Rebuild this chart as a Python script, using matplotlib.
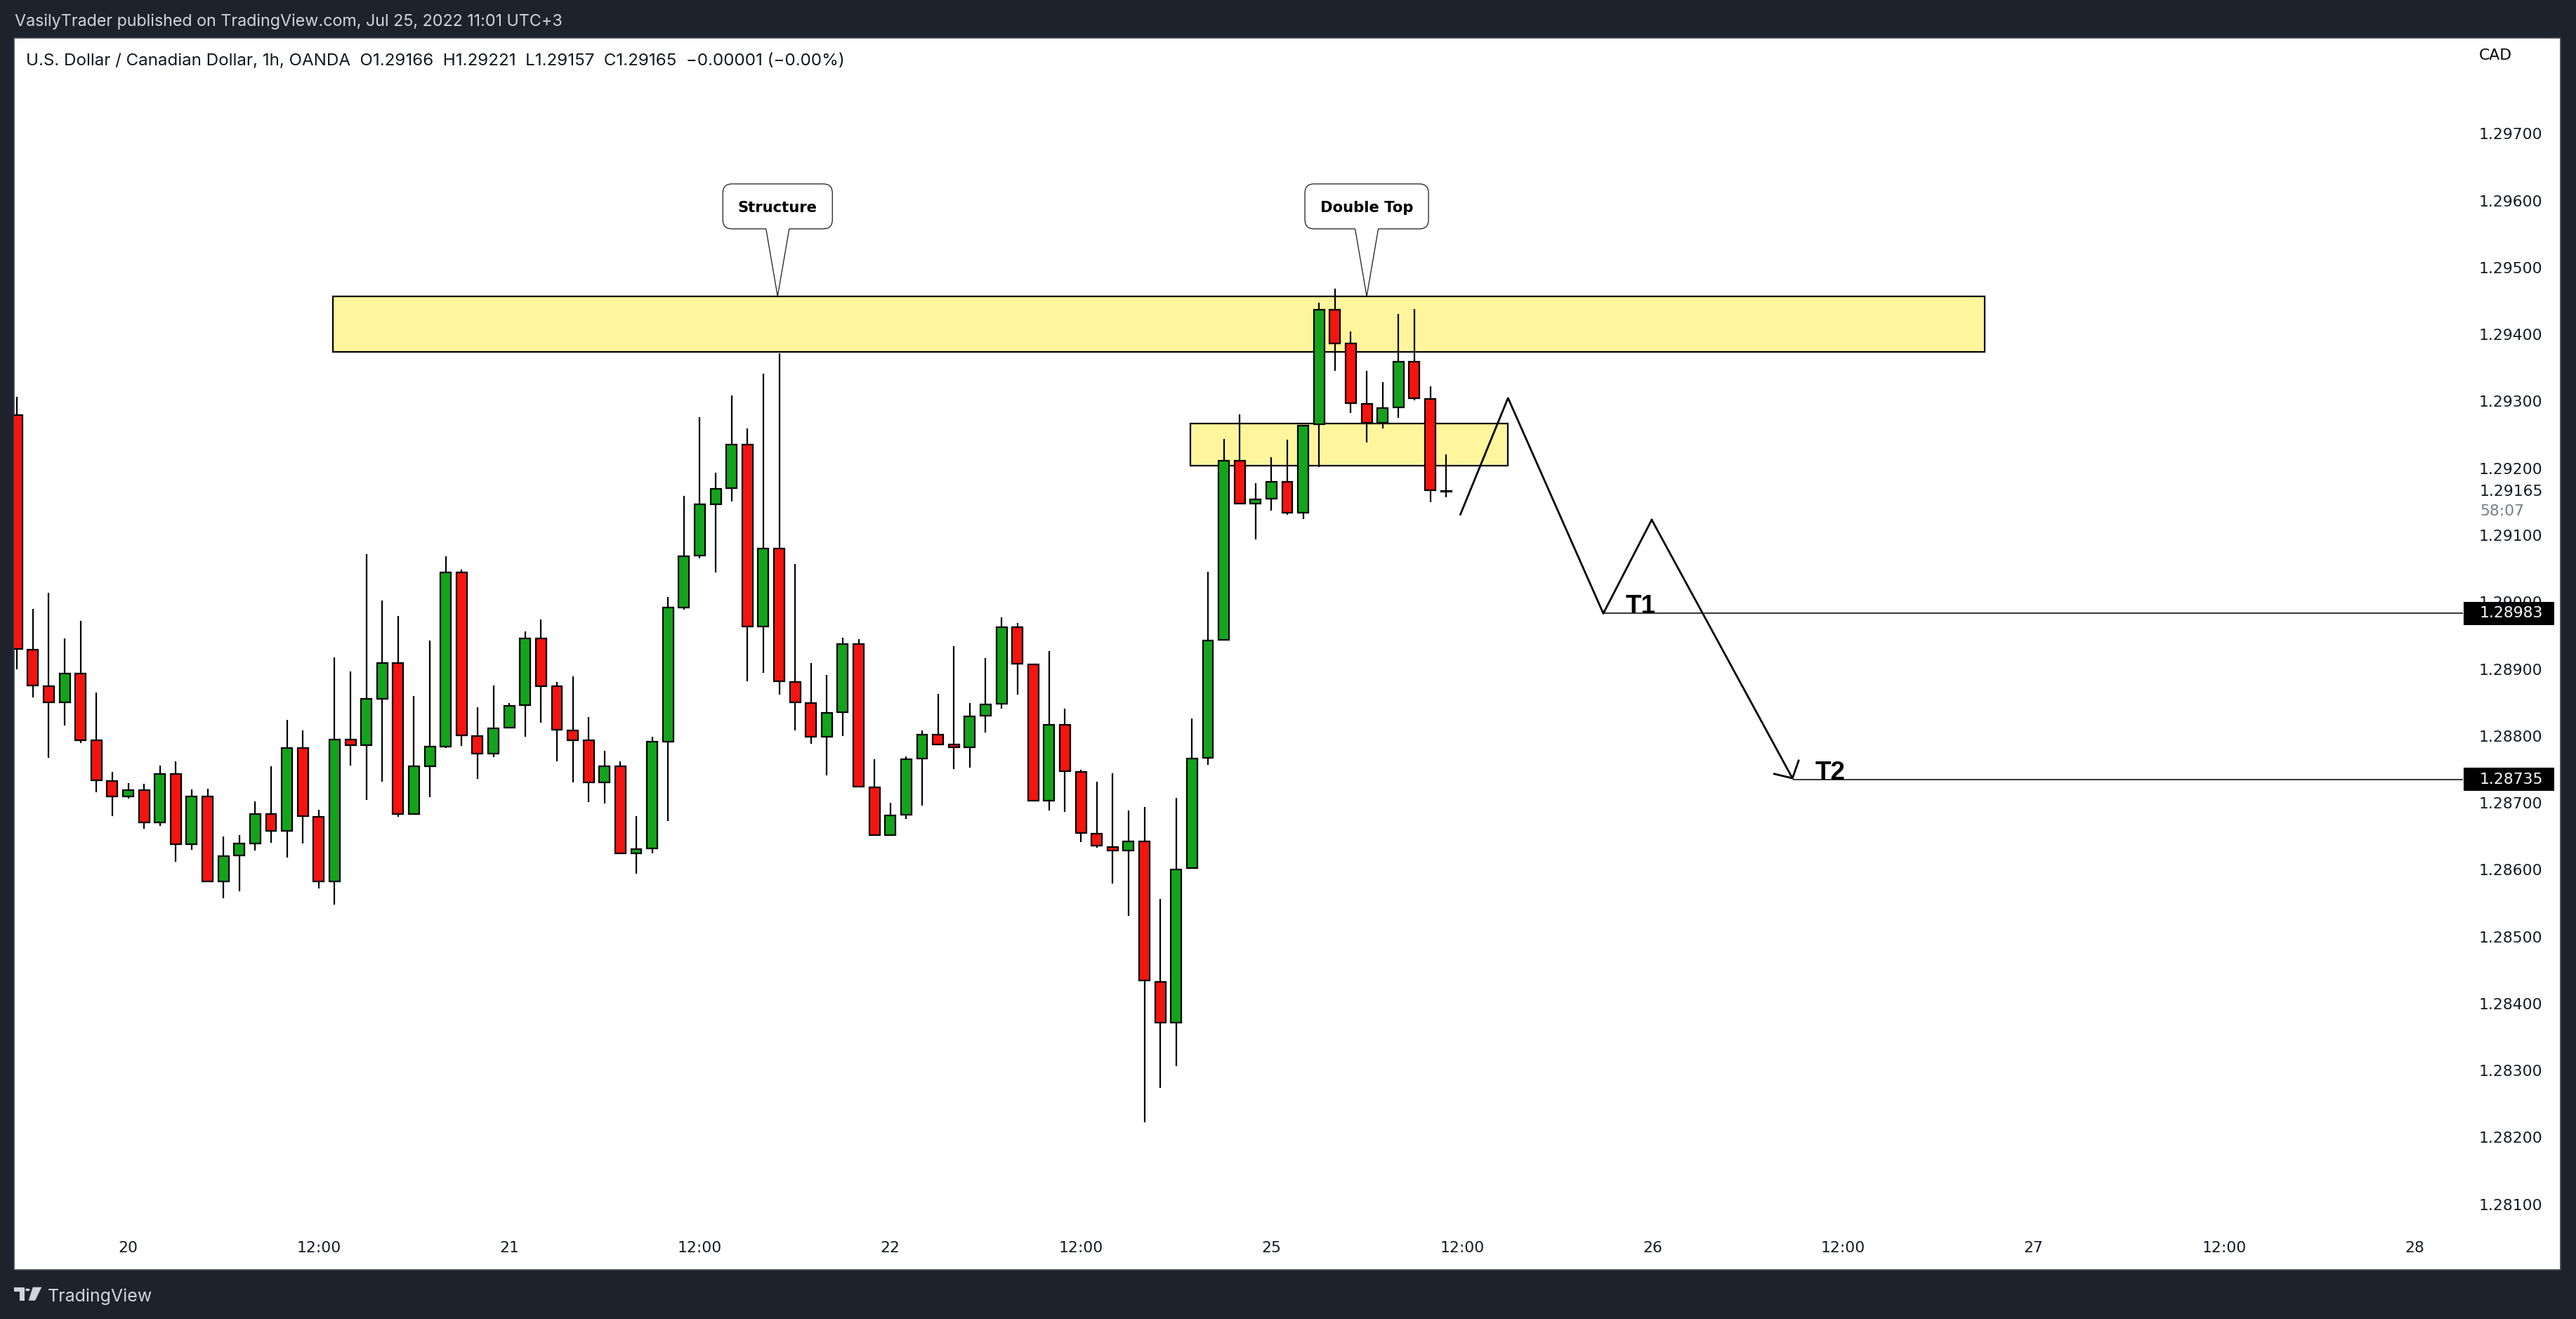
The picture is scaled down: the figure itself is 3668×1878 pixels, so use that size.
import numpy as np
import matplotlib
matplotlib.use("Agg")
import matplotlib.pyplot as plt
import matplotlib.transforms as mtransforms
from matplotlib.patches import Rectangle, PathPatch, Polygon, Circle
from matplotlib.path import Path

# hourly USDCAD bars, x = bar number counted from Jul 20 00:00 (weekend gap removed)
bar_idx = list(range(-7, 84))
opens = [1.29279, 1.28929, 1.28874, 1.28850, 1.28893, 1.28793, 1.28733, 1.28710, 1.28719, 1.28671,
         1.28743, 1.28638, 1.28709, 1.28583, 1.28621, 1.28639, 1.28683, 1.28658, 1.28782, 1.28679,
         1.28583, 1.28794, 1.28786, 1.28855, 1.28909, 1.28683, 1.28755, 1.28784, 1.29044, 1.28800,
         1.28774, 1.28812, 1.28846, 1.28946, 1.28874, 1.28808, 1.28793, 1.28730, 1.28755, 1.28624,
         1.28632, 1.28791, 1.28992, 1.29070, 1.29146, 1.29170, 1.29235, 1.28963, 1.29080, 1.28881,
         1.28849, 1.28799, 1.28835, 1.28937, 1.28723, 1.28652, 1.28682, 1.28766, 1.28802, 1.28787,
         1.28783, 1.28830, 1.28848, 1.28962, 1.28907, 1.28703, 1.28817, 1.28746, 1.28654, 1.28634,
         1.28629, 1.28642, 1.28432, 1.28371, 1.28602, 1.28767, 1.28944, 1.29211, 1.29147, 1.29155,
         1.29180, 1.29134, 1.29266, 1.29437, 1.29386, 1.29296, 1.29268, 1.29291, 1.29359, 1.29304,
         1.29166]
highs = [1.29307, 1.28990, 1.29014, 1.28946, 1.28972, 1.28865, 1.28746, 1.28729, 1.28728, 1.28756,
         1.28762, 1.28720, 1.28721, 1.28650, 1.28652, 1.28702, 1.28755, 1.28824, 1.28808, 1.28690,
         1.28917, 1.28896, 1.29072, 1.29002, 1.28979, 1.28860, 1.28942, 1.29069, 1.29049, 1.28843,
         1.28875, 1.28849, 1.28956, 1.28974, 1.28881, 1.28889, 1.28828, 1.28778, 1.28762, 1.28680,
         1.28799, 1.29008, 1.29159, 1.29276, 1.29193, 1.29309, 1.29259, 1.29341, 1.29372, 1.29057,
         1.28909, 1.28891, 1.28947, 1.28945, 1.28765, 1.28700, 1.28769, 1.28808, 1.28863, 1.28934,
         1.28849, 1.28916, 1.28977, 1.28969, 1.28907, 1.28927, 1.28841, 1.28749, 1.28732, 1.28744,
         1.28688, 1.28694, 1.28556, 1.28707, 1.28826, 1.29045, 1.29244, 1.29281, 1.29178, 1.29216,
         1.29243, 1.29264, 1.29447, 1.29468, 1.29404, 1.29346, 1.29329, 1.29431, 1.29438, 1.29322,
         1.29221]
lows = [1.28900, 1.28858, 1.28767, 1.28816, 1.28789, 1.28716, 1.28680, 1.28706, 1.28661, 1.28665,
        1.28612, 1.28630, 1.28582, 1.28557, 1.28568, 1.28629, 1.28640, 1.28618, 1.28639, 1.28572,
        1.28548, 1.28756, 1.28704, 1.28732, 1.28679, 1.28683, 1.28708, 1.28782, 1.28785, 1.28736,
        1.28768, 1.28812, 1.28799, 1.28820, 1.28762, 1.28730, 1.28701, 1.28699, 1.28624, 1.28594,
        1.28625, 1.28673, 1.28989, 1.29065, 1.29044, 1.29150, 1.28882, 1.28894, 1.28862, 1.28808,
        1.28788, 1.28741, 1.28800, 1.28724, 1.28652, 1.28652, 1.28676, 1.28696, 1.28786, 1.28750,
        1.28753, 1.28805, 1.28841, 1.28862, 1.28703, 1.28688, 1.28686, 1.28641, 1.28633, 1.28579,
        1.28531, 1.28222, 1.28274, 1.28306, 1.28602, 1.28757, 1.28944, 1.29147, 1.29094, 1.29137,
        1.29130, 1.29124, 1.29202, 1.29346, 1.29283, 1.29238, 1.29259, 1.29275, 1.29302, 1.29149,
        1.29157]
closes = [1.28930, 1.28875, 1.28850, 1.28893, 1.28793, 1.28734, 1.28710, 1.28719, 1.28671, 1.28743,
          1.28638, 1.28709, 1.28583, 1.28620, 1.28639, 1.28683, 1.28658, 1.28782, 1.28680, 1.28583,
          1.28794, 1.28786, 1.28855, 1.28909, 1.28683, 1.28755, 1.28784, 1.29044, 1.28801, 1.28774,
          1.28811, 1.28845, 1.28946, 1.28874, 1.28809, 1.28793, 1.28730, 1.28755, 1.28624, 1.28631,
          1.28791, 1.28992, 1.29069, 1.29146, 1.29169, 1.29235, 1.28963, 1.29080, 1.28882, 1.28850,
          1.28799, 1.28834, 1.28937, 1.28724, 1.28652, 1.28681, 1.28765, 1.28802, 1.28787, 1.28783,
          1.28829, 1.28847, 1.28962, 1.28908, 1.28703, 1.28817, 1.28747, 1.28655, 1.28636, 1.28629,
          1.28642, 1.28434, 1.28371, 1.28600, 1.28766, 1.28943, 1.29211, 1.29147, 1.29154, 1.29180,
          1.29134, 1.29264, 1.29437, 1.29387, 1.29297, 1.29268, 1.29290, 1.29359, 1.29305, 1.29167,
          1.29165]

time_ticks = [0, 12, 24, 36, 48, 60, 72, 84, 96, 108, 120, 132, 144]
time_labels = ["20", "12:00", "21", "12:00", "22", "12:00", "25", "12:00",
               "26", "12:00", "27", "12:00", "28"]
price_ticks = [1.281, 1.282, 1.283, 1.284, 1.285, 1.286, 1.287, 1.288, 1.289,
               1.290, 1.291, 1.292, 1.293, 1.294, 1.295, 1.296, 1.297]

# drawings
zone_x0 = [12.9, 66.9]
zone_x1 = [116.9, 86.9]
zone_lo = [1.29374, 1.29204]
zone_hi = [1.29457, 1.29267]
path_x = [83.9, 86.9, 92.9, 95.95, 104.85]
path_y = [1.29131, 1.29305, 1.28983, 1.29123, 1.28735]
target_names = ["T1", "T2"]
target_x = [92.9, 104.85]
target_y = [1.28983, 1.28735]
callout_text = ["Structure", "Double Top"]
callout_x = [40.9, 78.0]
callout_y = [1.29457, 1.29457]
callout_w = [156, 176]

last_price = 1.29165
header = "VasilyTrader published on TradingView.com, Jul 25, 2022 11:01 UTC+3"
title = ("U.S. Dollar / Canadian Dollar, 1h, OANDA  O1.29166  H1.29221  "
         "L1.29157  C1.29165  \u22120.00001 (\u22120.00%)")

W, H, DPI = 3668, 1878, 200
BG = "#1e222d"
fig = plt.figure(figsize=(W / DPI, H / DPI), dpi=DPI, facecolor=BG)

# white chart panel
fig.patches.append(Rectangle((20 / W, 1 - 1808 / H), 3626 / W, 1754 / H, transform=fig.transFigure,
                             fc="white", ec="#434651", lw=0.6, zorder=-1))

# pane in pixels: x 20..3507, y 54..1750; scale: bar 0 at x=182.5, 22.61 px/bar, 1.292 at y=666.7, 95270 px/unit
pl, pr, pt, pb = 20, 3507, 54, 1750
ax = fig.add_axes([pl / W, 1 - pb / H, (pr - pl) / W, (pb - pt) / H])
ax.set_xlim((pl - 182.5) / 22.61, (pr - 182.5) / 22.61)
ax.set_ylim(1.292 - (pb - 666.7) / 95270, 1.292 + (666.7 - pt) / 95270)
ax.patch.set_alpha(0)
for s in ax.spines.values():
    s.set_visible(False)

o = np.array(opens)
c = np.array(closes)
colors = ["#13a41b" if cc >= oo else "#f5140f" for oo, cc in zip(o, c)]
ax.vlines(bar_idx, lows, highs, color="black", lw=0.8, zorder=2)
ax.bar(bar_idx, np.abs(c - o), bottom=np.minimum(o, c), width=0.66, color=colors,
       edgecolor="black", linewidth=0.8, zorder=3)

for x0, x1, lo, hi in zip(zone_x0, zone_x1, zone_lo, zone_hi):
    ax.add_patch(Rectangle((x0, lo), x1 - x0, hi - lo, fc="#fff59d", ec="black", lw=0.8, zorder=1))

# projected path with arrow at the end
ax.plot(path_x[:-1], path_y[:-1], color="black", lw=1.0, zorder=4)
ax.annotate("", xy=(path_x[-1], path_y[-1]), xytext=(path_x[-2], path_y[-2]),
            arrowprops=dict(arrowstyle="->,head_length=0.65,head_width=0.72", lw=1.0, color="black",
                            shrinkA=0, shrinkB=0, mutation_scale=10), zorder=4)

xmax = ax.get_xlim()[1]
ty = mtransforms.blended_transform_factory(ax.transAxes, ax.transData)
for name, tx, tp in zip(target_names, target_x, target_y):
    ax.hlines(tp, tx, xmax, color="black", lw=0.55, zorder=4)
    ax.text(tx + 1.4, tp, name, family=["Liberation Sans", "DejaVu Sans"], fontweight="bold",
            fontsize=13.3, va="baseline", ha="left", zorder=5)
    ax.add_patch(Rectangle((1.0003, tp - 0.000173), 0.037, 0.000346, transform=ty, fc="black",
                           clip_on=False, zorder=10))
    ax.text(1.0069, tp, f"{tp:.5f}", transform=ty, color="white", fontsize=7.9, va="center",
            ha="left", zorder=11, clip_on=False)

# callouts (sizes in pixels of the reference)
def callout(x, p, label, bw_px):
    gap, h, r, base = 96, 64, 13, 16.5
    w2 = bw_px / 2
    t = gap + h
    verts = [(-base, gap), (-w2 + r, gap), (-w2, gap), (-w2, gap + r), (-w2, t - r),
             (-w2, t), (-w2 + r, t), (w2 - r, t), (w2, t), (w2, t - r), (w2, gap + r),
             (w2, gap), (w2 - r, gap), (base, gap), (0, 0), (-base, gap)]
    codes = [Path.MOVETO, Path.LINETO, Path.CURVE3, Path.CURVE3, Path.LINETO,
             Path.CURVE3, Path.CURVE3, Path.LINETO, Path.CURVE3, Path.CURVE3, Path.LINETO,
             Path.CURVE3, Path.CURVE3, Path.LINETO, Path.LINETO, Path.CLOSEPOLY]
    tr = mtransforms.Affine2D().scale(fig.dpi / DPI) + mtransforms.ScaledTranslation(x, p, ax.transData)
    ax.add_patch(PathPatch(Path(verts, codes), transform=tr, fc="white", ec="#1a1a1a", lw=0.45,
                           clip_on=False, zorder=6))
    ax.annotate(label, xy=(x, p), xytext=(0, (gap + h / 2 - 8) * 72 / DPI), textcoords="offset points",
                ha="center", va="baseline", fontsize=7.6, fontweight="bold", zorder=7)

for lab, cx, cy, cw in zip(callout_text, callout_x, callout_y, callout_w):
    callout(cx, cy, lab, cw)

# axes ticks
ax.yaxis.tick_right()
ax.set_yticks(price_ticks, labels=[f"{v:.5f}" for v in price_ticks])
ax.tick_params(axis="y", length=0, pad=8.3, labelsize=7.9, labelcolor="#131722")
ax.set_xticks(time_ticks, labels=time_labels)
ax.tick_params(axis="x", length=0, pad=6, labelsize=7.9, labelcolor="#131722")

ax.text(1.0066, 1 - (78.7 - pt) / (pb - pt), "CAD", transform=ax.transAxes, fontsize=7.9,
        va="center", ha="left", zorder=12, clip_on=False)
ax.text(1.0069, last_price, f"{last_price:.5f}", transform=ty, fontsize=7.9, va="center",
        ha="left", color="#131722", clip_on=False)
ax.text(1.0069, 1.29136, "58:07", transform=ty, fontsize=7.9, va="center", ha="left",
        color="#787b86", clip_on=False)

# header / title
fig.text(21 / W, 1 - 37.3 / H, header, color="#d1d4dc", fontsize=8.4,
         family=["Inter", "DejaVu Sans"], va="baseline")
fig.text(36.7 / W, 1 - 93 / H, title, color="#131722", fontsize=8.7,
         family=["Inter", "DejaVu Sans"], va="baseline")

# footer logo
def fp(x, y):
    return (x / W, 1 - y / H)

logo_c = "#d1d4dc"
fig.patches.append(Polygon([fp(20, 1832.7), fp(35, 1832.7), fp(35, 1851.7), fp(27.7, 1851.7),
                            fp(27.7, 1839.3), fp(20, 1839.3)], closed=True, transform=fig.transFigure,
                           fc=logo_c, ec="none"))
fig.patches.append(Circle(fp(39.3, 1836.4), 3.4 / W, transform=fig.transFigure, fc=logo_c, ec="none"))
fig.patches.append(Polygon([fp(46.7, 1832.7), fp(59.3, 1832.7), fp(50, 1851.7), fp(40.7, 1851.7)],
                           closed=True, transform=fig.transFigure, fc=logo_c, ec="none"))
fig.text(68 / W, 1 - 1852.7 / H, "TradingView", color=logo_c, fontsize=9,
         family=["Inter", "DejaVu Sans"], va="baseline")

fig.savefig("out.png", dpi=DPI, facecolor=BG)
